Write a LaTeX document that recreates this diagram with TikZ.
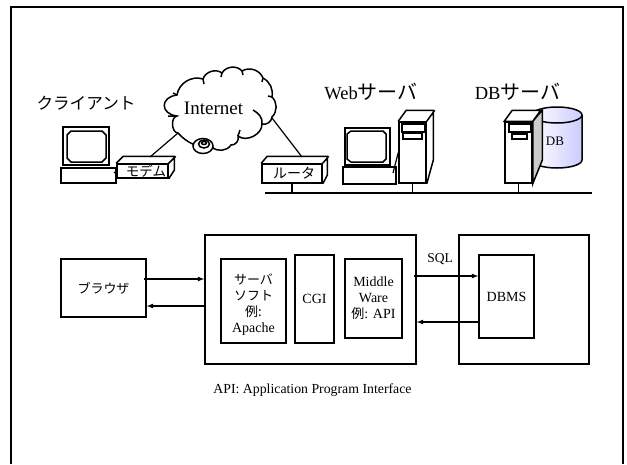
\documentclass[tikz,border=0pt]{standalone}
\usepackage{fontspec}
\setmainfont{Liberation Serif}
\newfontfamily\jp{Noto Sans CJK JP}
\tikzset{
  box/.style={draw,line width=1.5pt,inner sep=0pt,align=center},
  bigtxt/.style={font=\fontsize{18.5}{20}\selectfont},
  midtxt/.style={font=\fontsize{14}{16}\selectfont},
  part/.style={line width=1.5pt,line join=miter},
  wire/.style={line width=1.2pt},
  flow/.style={line width=1.2pt,-latex}
}
\newcommand{\kana}[1]{{\jp\fontsize{20}{22}\selectfont #1}}
\newcommand{\softk}[1]{{\jp\fontsize{13}{16}\selectfont #1}}
\begin{document}
\begin{tikzpicture}[x=1pt,y=-1pt]
    \useasboundingbox (0,0) rectangle (627,464);
    \draw [line width=1.5pt] (11,464)--(11,7)--(623,7)--(623,464);

    % cloud
    \draw [part,fill=white] (177,95) to[bend left=50] (203,79) to[bend left=55] (222,73)
        to[bend left=55] (242,71) to[bend left=50] (263,78) to[bend left=35] (272,97) to[bend left=45] (272,117)
        to[bend left=50] (262,124) to[bend left=65] (238,136) to[bend left=60] (231,145) to[bend left=50] (212,147)
        to[bend left=25] (178,133) to[bend left=85] (177,116) .. controls (160,114) and (160,97) .. cycle;
    \draw [part] (177,116)--(168,116) (177,95)--(173,93) (203,79)--(204,84) (222,73)--(221,77) (242,71)--(243,75)
        (263,78)--(262,82) (272,97)--(268,96) (238,136)--(240,130);
    \draw [part] (262,124) .. controls (263,117) and (258,113) .. (253,110);
    \draw [part,fill=white] (203,146) ellipse (10 and 7.5);
    \draw [part] (204,144) ellipse (5.5 and 4);
    \draw [part] (204,143) ellipse (2.5 and 1.5);
    \node (inet) [font=\fontsize{19}{20}\selectfont] at (213.5,108) {Internet};

    % client
    \node (cltxt) [font=\fontsize{16.6}{20}\selectfont] at (86,103) {\jp クライアント};
    \draw [part] (63,127) rectangle (109,165);
    \draw [part] (71,131)--(102,131)--(106,135)--(106,158)--(102,162)--(71,162)--(67,158)--(67,135)--cycle;
    \node (clbase) [box,minimum width=55pt,minimum height=15pt] at (88.5,175.5) {};
    \node (modem) [box,fill=white,minimum width=51pt,minimum height=14pt,font=\fontsize{13.5}{16}\selectfont] at (142.5,171) {\hspace{7pt}\jp モデム};
    \draw [part] (modem.north west)--++(7,-7)--++(51,0)--++(0,14)--(modem.south east) (modem.north east)--++(7,-7);
    \draw [wire] (114,173)--(modem.west);

    % router
    \node (router) [box,fill=white,minimum width=60pt,minimum height=19pt,font=\fontsize{14}{18}\selectfont] at (292,173.5) {\hspace{4pt}\jp ルータ};
    \draw [part] (router.north west)--++(6,-7)--++(60,0)--++(0,19)--(router.south east) (router.north east)--++(6,-7);

    % web server
    \node (webtxt) [bigtxt] at (371,92) {Web\kana{サーバ}};
    \draw [part] (345,128) rectangle (390,165);
    \draw [part] (351,131)--(383,131)--(386,134)--(386,159)--(383,162)--(351,162)--(347,159)--(347,134)--cycle;
    \node (webbase) [box,minimum width=53pt,minimum height=17pt] at (369.5,175.5) {};
    \node (webtower) [box,minimum width=27pt,minimum height=61pt] at (412.5,152.5) {};
    \draw [part] (webtower.north west)--++(8,-11)--++(27,0)--++(0,50)--(webtower.south east) (webtower.north east)--++(8,-11);
    \draw [part] (402,124) rectangle (425,132);
    \draw [part] (403,133) rectangle (422,139);
    \draw [wire] (393,173)--(webtower.west);

    % db server
    \shade [left color=white,right color=blue!20] (532,115) arc (180:360:25 and 8)--(582,160) arc (0:180:25 and 8)--cycle;
    \draw [part] (532,115) arc (180:360:25 and 8)--(582,160) arc (0:180:25 and 8);
    \draw [part] (532,115) arc (180:0:25 and 8);
    \node (dbtxt) [bigtxt] at (517.5,92) {DB\kana{サーバ}};
    \node (dbcyl) [font=\fontsize{13}{16}\selectfont] at (555,141) {DB};
    \node (dbtower) [box,fill=white,minimum width=27pt,minimum height=61pt] at (518.5,152.5) {};
    \filldraw [part,fill=gray!40] (dbtower.north east)--++(9.5,-11)--++(0,50)--(dbtower.south east)--cycle;
    \filldraw [part,fill=white] (dbtower.north west)--++(8,-11)--++(28.5,0)--(dbtower.north east)--cycle;
    \draw [part] (509,124) rectangle (531,132);
    \draw [part] (512,134) rectangle (527,139);

    % network
    \coordinate (busl) at (265,193);
    \coordinate (busr) at (592,193);
    \draw [wire] (busl)--(busr);
    \draw [wire] (router.south)--(router.south |- busl);
    \draw [wire] (webtower.south)--(webtower.south |- busl);
    \draw [wire] (dbtower.south)--(dbtower.south |- busl);
    \draw [wire] (150,157)--(178,133);
    \draw [wire] (272,118)--(302,157);

    % lower part
    \node (brow) [box,minimum width=85pt,minimum height=58pt,font=\fontsize{13}{16}\selectfont] at (103.5,288) {\jp ブラウザ};
    \node (web) [box,minimum width=211pt,minimum height=129pt] at (310.5,299.5) {};
    \node (soft) [box,minimum width=65pt,minimum height=84pt,midtxt] at (253.5,301) {\rule{0pt}{18pt}\softk{サーバ}\\[.5pt]\softk{ソフト}\\\softk{例:}\\Apache};
    \node (cgi) [box,minimum width=39pt,minimum height=88pt,midtxt] at (314.5,299) {CGI};
    \node (mware) [box,minimum width=57pt,minimum height=79pt,midtxt] at (373.5,298.5) {Middle\\Ware\\\softk{例}: API};
    \node (db) [box,minimum width=130pt,minimum height=129pt] at (524,299.5) {};
    \node (dbms) [box,minimum width=55pt,minimum height=83pt,midtxt] at (506.5,296.5) {DBMS};
    \node (sql) [font=\fontsize{13.5}{16}\selectfont] at (440,259) {SQL};
    \node (api) [font=\fontsize{13.8}{16}\selectfont] at (312.5,390) {API: Application Program Interface};

    \draw [flow] ([xshift=-3pt,yshift=9pt]brow.east)--([yshift=20.5pt]web.west);
    \draw [flow] ([yshift=-6.5pt]web.west)--([yshift=-18pt]brow.east);
    \draw [flow] ([xshift=-3pt,yshift=23.5pt]web.east)--([yshift=20.5pt]dbms.west);
    \draw [flow] ([yshift=-25.5pt]dbms.west)--([yshift=-22.5pt]web.east);
\end{tikzpicture}
\end{document}
